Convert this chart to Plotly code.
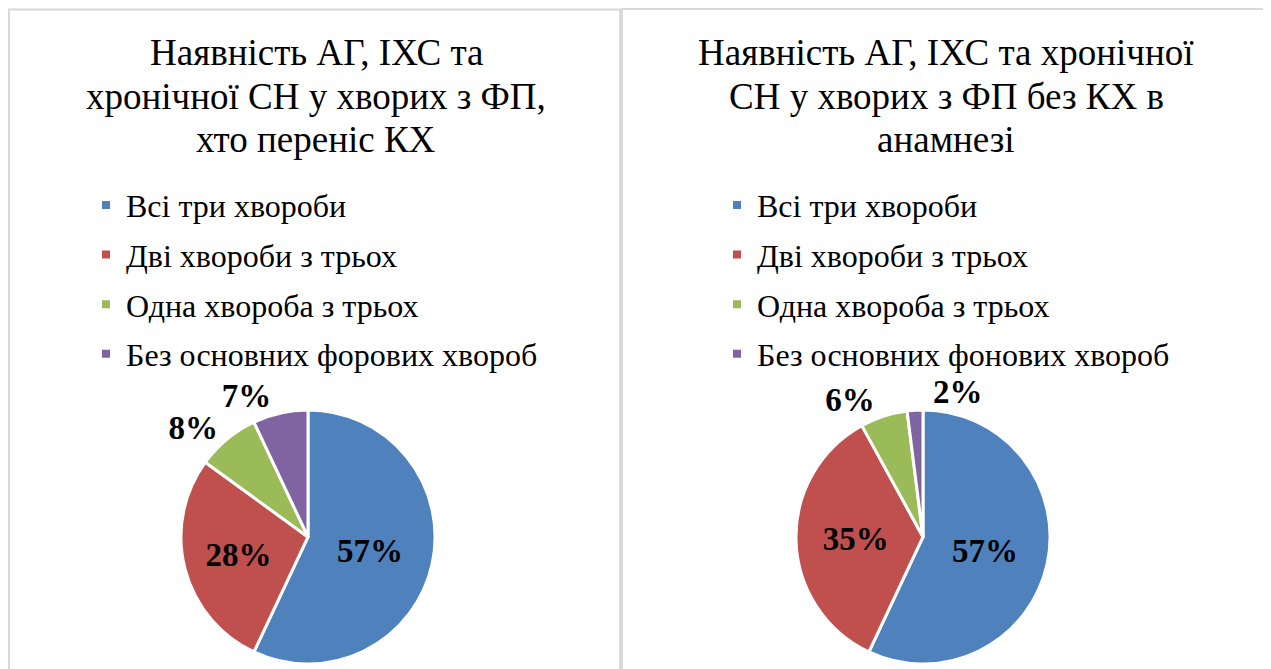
import plotly.graph_objects as go

labels_left = ['Всі три хвороби', 'Дві хвороби з трьох', 'Одна хвороба з трьох', 'Без основних форових хвороб']
labels_right = ['Всі три хвороби', 'Дві хвороби з трьох', 'Одна хвороба з трьох', 'Без основних фонових хвороб']
values_left = [57, 28, 8, 7]
values_right = [57, 35, 6, 2]
colors = ['#4F81BD', '#C0504D', '#9BBB59', '#8064A2']

title_left = ['Наявність АГ, ІХС та', 'хронічної СН у хворих з ФП,', 'хто переніс КХ']
title_right = ['Наявність АГ, ІХС та хронічної', 'СН у хворих з ФП без КХ в', 'анамнезі']

serif = 'Liberation Serif'

# сторінка має відступ body 8px, тому фігура трохи менша
OX, OY = 8, 8
FW, FH = 1263, 661


def xp(px):
    return (px - OX) / FW


def yp(py):
    return 1 - (py - OY) / FH


lbl_font = dict(family=serif, size=33, color='black', weight='bold')
pct = '%{percent:.0%}'

panels = [
    (values_left, labels_left, [xp(180), xp(436)], 0),
    (values_right, labels_right, [xp(795), xp(1051)], 4),
]

fig = go.Figure()

for vals, labs, dom, rot_small in panels:
    pie_dom = dict(x=dom, y=[0, yp(413)])
    # основний пиріг: підписи для трьох перших секторів
    fig.add_trace(go.Pie(
        values=vals, labels=labs, sort=False, direction='clockwise', rotation=0,
        marker=dict(colors=colors, line=dict(color='white', width=3)),
        texttemplate=pct,
        textposition=['inside', 'inside', 'outside', 'none'],
        insidetextorientation='horizontal',
        textfont=lbl_font,
        domain=pie_dom,
        showlegend=False, hoverinfo='label+percent'
    ))
    # прозорий пиріг лише з підписом найменшого сектора (щоб plotly не зсував мітки)
    fig.add_trace(go.Pie(
        values=vals, labels=labs, sort=False, direction='clockwise', rotation=rot_small,
        marker=dict(colors=['rgba(0,0,0,0)'] * 4, line=dict(width=0)),
        texttemplate=pct,
        textposition=['none', 'none', 'none', 'outside'],
        textfont=lbl_font,
        domain=pie_dom,
        showlegend=False, hoverinfo='skip'
    ))

# Легенди (окремі елементи для відступів між рядками)
for labs, leg in [(labels_left, 'legend'), (labels_right, 'legend2')]:
    for lab, c in zip(labs, colors):
        fig.add_trace(go.Scatter(
            x=[None], y=[None], mode='markers', name=lab, legend=leg,
            legendgroup=leg + lab,
            marker=dict(symbol='square', size=8, color=c)
        ))

leg_style = dict(font=dict(family=serif, size=32, color='black'), tracegroupgap=5,
                 bgcolor='rgba(0,0,0,0)', xanchor='left', yanchor='top', y=yp(179))
fig.update_layout(
    legend=dict(x=xp(86), **leg_style),
    legend2=dict(x=xp(717), **leg_style),
)

# Заголовки (по рядку, щоб задати міжрядковий інтервал)
for lines, xc in [(title_left, 316), (title_right, 946)]:
    for line, top in zip(lines, [30, 74, 118]):
        fig.add_annotation(text=line, x=xp(xc), y=yp(top), xref='paper', yref='paper',
                           xanchor='center', yanchor='top', showarrow=False,
                           font=dict(family=serif, size=37, color='black'))

# Рамки панелей
fig.add_shape(type='rect', xref='paper', yref='paper', x0=xp(9), x1=xp(620), y0=-0.05, y1=yp(9.5),
              line=dict(color='#d9d9d9', width=2))
fig.add_shape(type='rect', xref='paper', yref='paper', x0=xp(622), x1=1.02, y0=-0.05, y1=yp(9),
              line=dict(color='#d9d9d9', width=2))

fig.update_layout(
    width=FW, height=FH,
    margin=dict(l=0, r=0, t=0, b=0),
    paper_bgcolor='white', plot_bgcolor='white',
    xaxis=dict(visible=False), yaxis=dict(visible=False),
)

fig.write_html("out.html")
